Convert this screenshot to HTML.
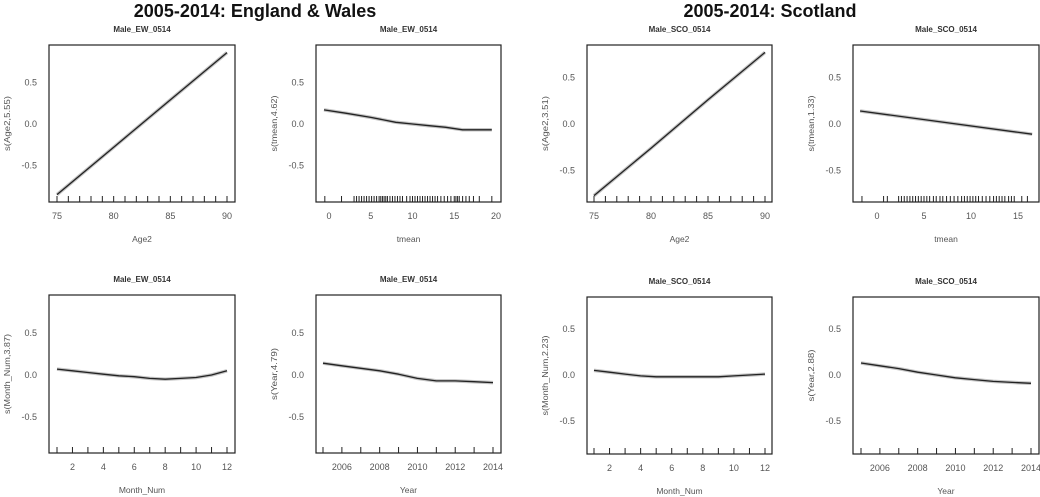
<!DOCTYPE html>
<html><head><meta charset="utf-8">
<style>
html,body{margin:0;padding:0;background:#fff;}
svg{display:block;}
text{font-family:"Liberation Sans",sans-serif;}
.hdr{font-size:18px;font-weight:bold;fill:#111;}
.ttl{font-size:8px;font-weight:bold;fill:#333;}
.tk{font-size:9px;fill:#555;}
.lab{font-size:8.5px;fill:#555;}
</style></head>
<body>
<svg id="fig" width="1040" height="497" viewBox="0 0 1040 497">
<text class="hdr" x="255" y="17" text-anchor="middle">2005-2014: England &amp; Wales</text>
<text class="hdr" x="770" y="17" text-anchor="middle">2005-2014: Scotland</text>
</svg>
<script>
// ---- data ----
const ageX = [75, 80, 85, 90];
const ewAgeY = [-0.85, -0.28, 0.29, 0.86];
const scoAgeY = [-0.77, -0.26, 0.26, 0.77];
const ewTmeanX = [-0.6, 2, 5, 8, 10, 12, 14, 16, 18, 19.5];
const ewTmeanY = [0.17, 0.13, 0.08, 0.02, 0.0, -0.02, -0.04, -0.07, -0.07, -0.07];
const scoTmeanX = [-1.8, 16.5];
const scoTmeanY = [0.14, -0.11];
const monthX = [1, 2, 3, 4, 5, 6, 7, 8, 9, 10, 11, 12];
const ewMonthY = [0.07, 0.05, 0.03, 0.01, -0.01, -0.02, -0.04, -0.05, -0.04, -0.03, 0.0, 0.05];
const scoMonthY = [0.05, 0.03, 0.01, -0.01, -0.02, -0.02, -0.02, -0.02, -0.02, -0.01, 0.0, 0.01];
const yearX = [2005, 2006, 2007, 2008, 2009, 2010, 2011, 2012, 2013, 2014];
const ewYearY = [0.14, 0.11, 0.08, 0.05, 0.01, -0.04, -0.07, -0.07, -0.08, -0.09];
const scoYearY = [0.13, 0.10, 0.07, 0.03, 0.0, -0.03, -0.05, -0.07, -0.08, -0.09];
const ewRug = [-0.5,1.5,3,3.3,3.6,3.9,4.2,4.5,4.8,5.1,5.4,5.7,6,6.2,6.4,6.6,6.8,7,7.3,7.6,7.9,8.2,8.5,8.8,9.3,9.7,10,10.3,10.6,10.9,11.2,11.5,11.8,12.1,12.4,12.7,13,13.4,13.8,14.2,14.6,15,15.2,15.4,15.6,16,16.4,16.8,17.3,18,19.5];
const scoRug = [-1.6,0.7,1.1,2.3,2.6,2.9,3.2,3.5,3.8,4.1,4.4,4.7,5,5.3,5.6,6,6.3,6.7,7,7.4,7.8,8.2,8.6,9,9.3,9.6,9.9,10.2,10.5,10.8,11.2,11.6,12,12.4,12.7,13,13.3,13.6,14,14.3,14.6,15.4,16];
const yTicks = [-0.5, 0.0, 0.5];
const yTickLabels = ["-0.5", "0.0", "0.5"];

const NS = "http://www.w3.org/2000/svg";
const svg = document.getElementById('fig');
function mk(tag, attrs, parent){const e=document.createElementNS(NS,tag);for(const k in attrs)e.setAttribute(k,attrs[k]);(parent||svg).appendChild(e);return e;}

function panel(p){
  const g = mk('g',{});
  
  
  const sx = v => p.x0 + (v - p.xv0) / (p.xv1 - p.xv0) * (p.xp1 - p.x0);
  const sy = v => p.yz - v * p.ys;
  const t = mk('text',{x:(p.bx0+p.bx1)/2,y:p.by0-13,'text-anchor':'middle',class:'ttl'},g);
  t.textContent = p.title;
  
  
  const box = mk('rect',{x:p.bx0,y:p.by0,width:p.bx1-p.bx0,height:p.by1-p.by0,fill:'none',stroke:'#222','stroke-width':1.2},g);
  
  
  yTicks.forEach((v,i)=>{
    const yy = sy(v);
    const tl = mk('text',{x:p.bx0-12,y:yy+3,'text-anchor':'end',class:'tk'},g);
    tl.textContent = yTickLabels[i];
    
    
  });
  p.xticks.forEach(v=>{
    const tl = mk('text',{x:sx(v),y:p.by1+17,'text-anchor':'middle',class:'tk'},g);
    tl.textContent = String(v);
    
    
  });
  const yl = mk('text',{transform:`translate(${p.bx0-39},${(p.by0+p.by1)/2}) rotate(-90)`,'text-anchor':'middle',class:'lab',textLength:p.ylen,lengthAdjust:'spacingAndGlyphs'},g);
  yl.textContent = p.ylab;
  
  
  const xl = mk('text',{x:(p.bx0+p.bx1)/2,y:p.by1+40,'text-anchor':'middle',class:'lab'},g);
  xl.textContent = p.xlab;
  
  
  p.rug.forEach(v=>{
    const r = mk('line',{x1:sx(v),x2:sx(v),y1:p.by1,y2:p.by1-6,stroke:'#222','stroke-width':1},g);
    
    
  });
  const pts = p.xs.map((v,i)=>sx(v).toFixed(1)+','+sy(p.ys_[i]).toFixed(1)).join(' ');
  const band = mk('polyline',{points:pts,fill:'none',stroke:'#c4c4c4','stroke-width':3.5,'stroke-linejoin':'round'},g);
  
  
  const ln = mk('polyline',{points:pts,fill:'none',stroke:'#222','stroke-width':1.3,'stroke-linejoin':'round'},g);
  
  
}
const ewTop={by0:45,by1:202,yz:124,ys:83}, ewBot={by0:295,by1:453,yz:375,ys:84};
const scTop={by0:45,by1:202,yz:124,ys:93}, scBot={by0:297,by1:454,yz:375,ys:92};
const ageRug=[75,76,77,78,79,80,81,82,83,84,85,86,87,88,89,90];
panel(Object.assign({name:'panel-ew-age',title:'Male_EW_0514',bx0:49,bx1:235,x0:57,xp1:227,xv0:75,xv1:90,xticks:[75,80,85,90],xs:ageX,ys_:ewAgeY,rug:ageRug,xlab:'Age2',ylab:'s(Age2,5.55)',ylen:55},ewTop));
panel(Object.assign({name:'panel-ew-tmean',title:'Male_EW_0514',bx0:316,bx1:501,x0:329,xp1:496,xv0:0,xv1:20,xticks:[0,5,10,15,20],xs:ewTmeanX,ys_:ewTmeanY,rug:ewRug,xlab:'tmean',ylab:'s(tmean,4.62)',ylen:56},ewTop));
panel(Object.assign({name:'panel-sco-age',title:'Male_SCO_0514',bx0:587,bx1:772,x0:594,xp1:765,xv0:75,xv1:90,xticks:[75,80,85,90],xs:ageX,ys_:scoAgeY,rug:ageRug,xlab:'Age2',ylab:'s(Age2,3.51)',ylen:55},scTop));
panel(Object.assign({name:'panel-sco-tmean',title:'Male_SCO_0514',bx0:853,bx1:1039,x0:877,xp1:1018,xv0:0,xv1:15,xticks:[0,5,10,15],xs:scoTmeanX,ys_:scoTmeanY,rug:scoRug,xlab:'tmean',ylab:'s(tmean,1.33)',ylen:56},scTop));
panel(Object.assign({name:'panel-ew-month',title:'Male_EW_0514',bx0:49,bx1:235,x0:57,xp1:227,xv0:1,xv1:12,xticks:[2,4,6,8,10,12],xs:monthX,ys_:ewMonthY,rug:monthX,xlab:'Month_Num',ylab:'s(Month_Num,3.87)',ylen:80},ewBot));
panel(Object.assign({name:'panel-ew-year',title:'Male_EW_0514',bx0:316,bx1:501,x0:323,xp1:493,xv0:2005,xv1:2014,xticks:[2006,2008,2010,2012,2014],xs:yearX,ys_:ewYearY,rug:yearX,xlab:'Year',ylab:'s(Year,4.79)',ylen:52},ewBot));
panel(Object.assign({name:'panel-sco-month',title:'Male_SCO_0514',bx0:587,bx1:772,x0:594,xp1:765,xv0:1,xv1:12,xticks:[2,4,6,8,10,12],xs:monthX,ys_:scoMonthY,rug:monthX,xlab:'Month_Num',ylab:'s(Month_Num,2.23)',ylen:80},scBot));
panel(Object.assign({name:'panel-sco-year',title:'Male_SCO_0514',bx0:853,bx1:1039,x0:861,xp1:1031,xv0:2005,xv1:2014,xticks:[2006,2008,2010,2012,2014],xs:yearX,ys_:scoYearY,rug:yearX,xlab:'Year',ylab:'s(Year,2.88)',ylen:52},scBot));
</script>
</body></html>
